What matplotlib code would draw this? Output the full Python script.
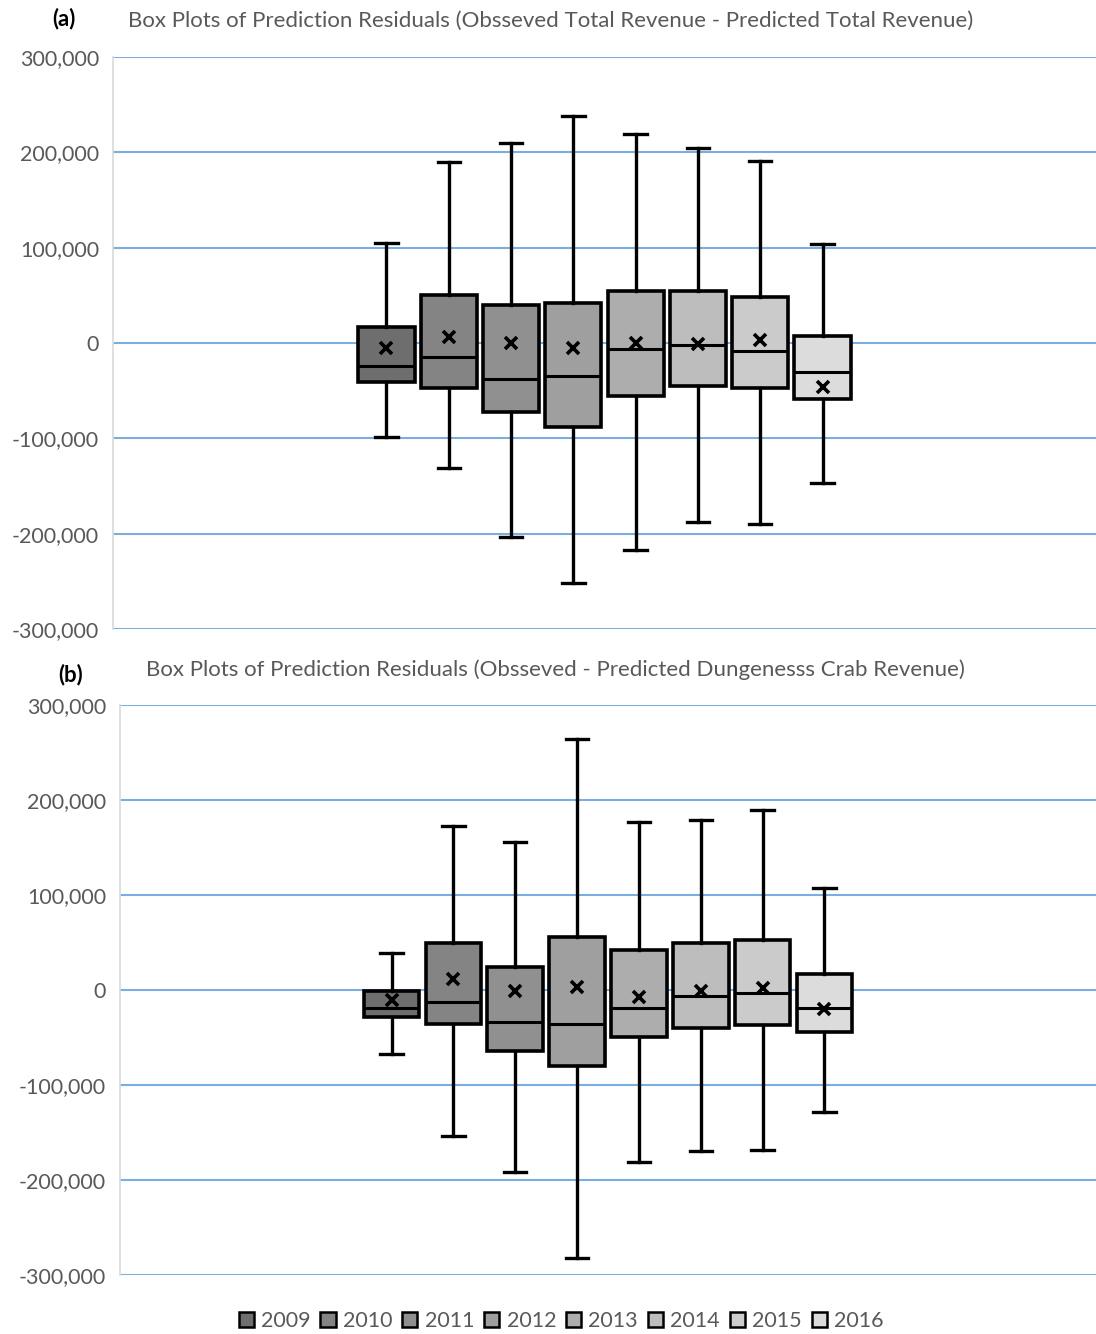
import matplotlib.pyplot as plt
import matplotlib.patches as mpatches
from matplotlib.ticker import FuncFormatter

plt.rcParams['font.family'] = ['Lato', 'DejaVu Sans']

years = ['2009', '2010', '2011', '2012', '2013', '2014', '2015', '2016']
colors = ['#6e6e6e', '#848484', '#909090', '#9f9f9f', '#adadad', '#bdbdbd', '#cbcbcb', '#dcdcdc']

# panel (a): total revenue residuals
a_whislo = [-99000, -131000, -204000, -252000, -217000, -188000, -190000, -147000]
a_q1 = [-41000, -47000, -72000, -88000, -56000, -45000, -47000, -59000]
a_med = [-24000, -15000, -38000, -35000, -6000, -2000, -8000, -30000]
a_q3 = [17000, 50000, 40000, 42000, 54000, 55000, 48000, 7000]
a_whishi = [105000, 190000, 210000, 238000, 219000, 205000, 191000, 104000]
a_mean = [-5000, 6000, 0, -5000, 0, -1000, 3000, -46000]

# panel (b): dungeness crab revenue residuals
b_whislo = [-67000, -154000, -192000, -282000, -181000, -169000, -168000, -128000]
b_q1 = [-28000, -36000, -64000, -80000, -49000, -40000, -37000, -44000]
b_med = [-19000, -13000, -34000, -36000, -19000, -6000, -3000, -19000]
b_q3 = [-1000, 49000, 24000, 56000, 42000, 49000, 53000, 17000]
b_whishi = [39000, 173000, 156000, 264000, 177000, 179000, 189000, 107000]
b_mean = [-11000, 12000, -1000, 3000, -7000, -1000, 2000, -20000]

title_a = 'Box Plots of Prediction Residuals (Obsseved Total Revenue - Predicted Total Revenue)'
title_b = 'Box Plots of Prediction Residuals (Obsseved - Predicted Dungenesss Crab Revenue)'


def draw(ax, lo, q1, med, q3, hi, mean):
    stats = []
    for i in range(len(years)):
        stats.append(dict(whislo=lo[i], q1=q1[i], med=med[i], q3=q3[i],
                          whishi=hi[i], mean=mean[i], fliers=[]))
    pos = list(range(len(years)))
    bp = ax.bxp(stats, positions=pos, widths=0.9, patch_artist=True, showmeans=True,
                boxprops=dict(edgecolor='black', linewidth=2.6),
                medianprops=dict(color='black', linewidth=2.2),
                whiskerprops=dict(color='black', linewidth=2.4),
                capprops=dict(color='black', linewidth=2.4),
                meanprops=dict(marker='x', markeredgecolor='black', markersize=9,
                               markeredgewidth=2.6))
    for patch, c in zip(bp['boxes'], colors):
        patch.set_facecolor(c)
    for cap in bp['caps']:
        x = cap.get_xdata()
        m = (x[0] + x[1]) / 2
        cap.set_xdata([m - 0.18, m + 0.18])
    ax.set_ylim(-300000, 300000)
    ax.set_yticks(range(-300000, 300001, 100000))
    ax.yaxis.set_major_formatter(FuncFormatter(lambda v, p: f'{int(v):,}'))
    ax.set_xlim(-4.39, 11.39)
    ax.set_xticks([])
    ax.grid(axis='y', color='#7aaee0', linewidth=1.5)
    ax.set_axisbelow(True)
    for s in ['top', 'right', 'bottom']:
        ax.spines[s].set_visible(False)
    ax.spines['left'].set_color('#d9d9d9')
    ax.spines['left'].set_linewidth(1.2)
    ax.tick_params(axis='y', length=0, labelsize=15.5, labelcolor='#595959', pad=10)


fig = plt.figure(figsize=(10.96, 13.34), dpi=100)
ax1 = fig.add_axes([0.1031, 0.5285, 0.8969, 0.4288])
ax2 = fig.add_axes([0.1095, 0.0442, 0.8905, 0.4273])

draw(ax1, a_whislo, a_q1, a_med, a_q3, a_whishi, a_mean)
draw(ax2, b_whislo, b_q1, b_med, b_q3, b_whishi, b_mean)

fig.text(0.117, 0.984, title_a, fontsize=16, color='#595959', va='center', ha='left')
fig.text(0.133, 0.498, title_b, fontsize=16, color='#595959', va='center', ha='left')
fig.text(0.058, 0.986, '(a)', fontsize=16, fontweight='bold', va='center', ha='center')
fig.text(0.064, 0.494, '(b)', fontsize=16, fontweight='bold', va='center', ha='center')

handles = [mpatches.Patch(facecolor=c, edgecolor='black', linewidth=1.8, label=y)
           for c, y in zip(colors, years)]
fig.legend(handles=handles, loc='center', bbox_to_anchor=(0.512, 0.0097), ncol=8,
           frameon=False, fontsize=15.5, labelcolor='#595959', handlelength=0.7,
           handleheight=0.7, handletextpad=0.35, columnspacing=0.45)

fig.savefig('out.png', dpi=100)
